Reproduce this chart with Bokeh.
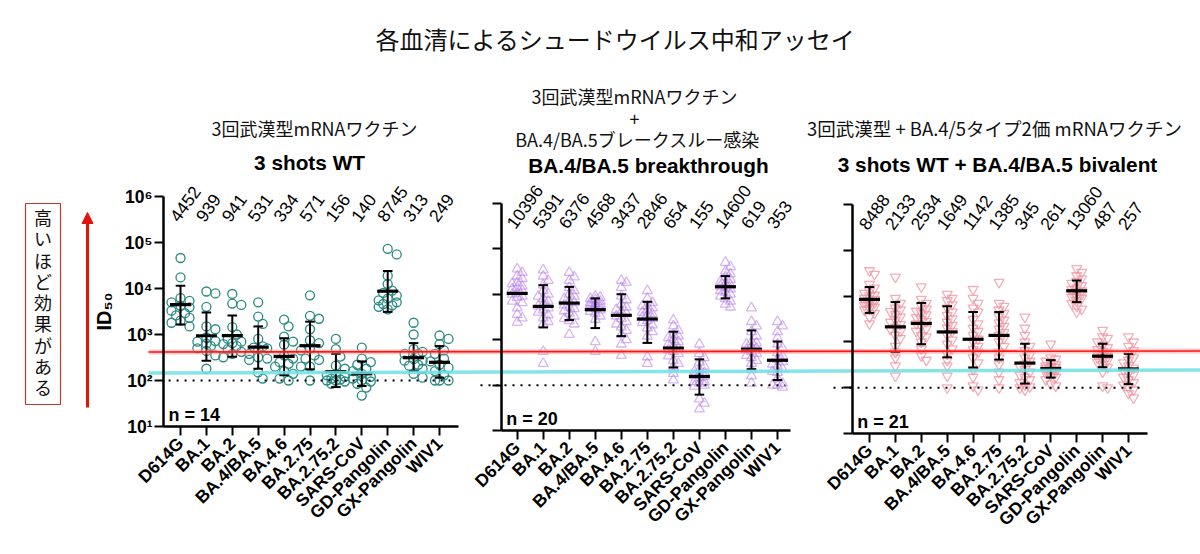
import math
from bokeh.plotting import figure
from bokeh.models import (Range1d, LogScale, LogAxis, LinearAxis, FixedTicker,
                          CustomJSTickFormatter, Arrow, NormalHead)
from bokeh.core.properties import value
from bokeh.embed import file_html
from bokeh.resources import INLINE

# ---------------- data ----------------
categories = ["D614G", "BA.1", "BA.2", "BA.4/BA.5", "BA.4.6", "BA.2.75",
              "BA.2.75.2", "SARS-CoV", "GD-Pangolin", "GX-Pangolin", "WIV1"]

# geometric means (labels above columns)
gm_wt = [4452, 939, 941, 531, 334, 571, 156, 140, 8745, 313, 249]
gm_bt = [10396, 5391, 6376, 4568, 3437, 2846, 654, 155, 14600, 619, 353]
gm_bv = [8488, 2133, 2534, 1649, 1142, 1385, 345, 261, 13060, 487, 257]

# error bars (upper / lower)
hi_wt = [11500, 3000, 2600, 1500, 830, 1900, 380, 260, 24000, 650, 560]
lo_wt = [1660, 270, 330, 180, 130, 175, 72, 76, 3100, 160, 115]
hi_bt = [None, 15800, 14500, 8100, 10000, 6800, 1500, 370, 25000, 1600, 910]
lo_bt = [None, 1860, 2700, 1800, 1200, 850, 245, 62, 8100, 225, 130]
hi_bv = [15800, 7400, 7100, 6000, 4500, 4500, 910, 400, 21900, 910, 550]
lo_bv = [4300, 600, 890, 460, 275, 410, 123, 166, 7400, 280, 120]

# individual sera, 3 shots WT (n = 14)
pts_wt = [
    [46000, 17400, 6200, 5400, 5000, 4200, 3900, 3300, 2900, 2600, 2300, 2000, 1800, 1500],
    [8600, 7800, 4000, 1500, 1300, 700, 860, 500, 720, 630, 560, 440, 350, 180],
    [7600, 4700, 4400, 1450, 1000, 800, 650, 700, 620, 560, 480, 420, 380, 320],
    [5000, 2450, 1700, 800, 550, 520, 480, 500, 380, 320, 300, 280, 150, 110],
    [2100, 1500, 900, 700, 600, 350, 300, 250, 230, 200, 160, 140, 110, 100],
    [7100, 2550, 2200, 1300, 750, 650, 500, 450, 350, 300, 280, 200, 200, 100],
    [800, 480, 330, 210, 180, 130, 140, 120, 110, 105, 100, 100, 95, 85],
    [520, 300, 250, 220, 180, 160, 140, 120, 110, 100, 95, 85, 70, 47],
    [73000, 55000, 19000, 12500, 9000, 8000, 7000, 6000, 5500, 5000, 4600, 4300, 4000, 3500],
    [1800, 1000, 480, 420, 380, 380, 290, 270, 270, 220, 210, 180, 140, 115],
    [950, 800, 620, 450, 380, 300, 260, 220, 190, 160, 130, 100, 100, 100],
]

# BA.4/BA.5 breakthrough (n = 20)
pts_bt = [
    [36000, 30000, 25000, 22000, 18000, 17000, 15000, 14000, 13000, 12000, 10500, 10000, 9000, 8500, 7000, 6500, 5000, 3600, 3000, 2400],
    [34000, 25000, 20000, 16000, 12000, 10000, 9000, 8000, 7000, 6000, 5500, 5000, 4500, 4000, 3500, 3000, 2500, 2200, 550, 300],
    [30000, 24000, 20000, 14000, 12000, 10000, 9000, 8000, 7000, 6500, 5800, 5200, 4800, 4300, 3800, 3300, 2900, 2600, 2200, 1300],
    [9000, 8500, 8000, 7500, 7000, 6500, 6200, 6000, 5800, 5500, 5200, 5000, 4800, 4500, 4200, 3800, 3300, 2800, 900, 550],
    [20000, 18000, 14000, 9000, 7500, 6000, 5200, 4600, 4200, 3800, 3300, 2900, 2500, 2200, 1900, 1600, 1300, 1000, 800, 450],
    [12000, 8000, 6500, 5500, 5500, 5000, 4500, 4000, 3700, 3400, 3100, 2900, 2600, 2400, 2100, 1800, 1500, 1200, 420, 300],
    [2700, 2000, 1600, 1300, 1200, 1100, 1000, 900, 800, 720, 650, 600, 550, 500, 440, 350, 300, 250, 180, 130],
    [800, 500, 400, 320, 260, 220, 200, 190, 175, 165, 155, 145, 120, 120, 110, 100, 95, 50, 40, 30],
    [50000, 40000, 32000, 28000, 24000, 21000, 19000, 17000, 16000, 15000, 14000, 13000, 12000, 11000, 10000, 9000, 8000, 7000, 6000, 5200],
    [5000, 2500, 2000, 1500, 1200, 900, 850, 800, 700, 650, 600, 550, 500, 450, 400, 350, 300, 220, 160, 110],
    [2500, 2000, 1500, 1100, 800, 650, 520, 440, 370, 330, 290, 260, 230, 200, 190, 140, 110, 100, 100, 90],
]

# 3 shots WT + BA.4/BA.5 bivalent (n = 21)
pts_bv = [
    [36000, 30000, 18000, 15000, 13000, 11500, 10500, 10000, 9000, 8500, 8000, 7500, 7200, 6800, 6300, 5800, 5400, 5000, 4200, 3500, 2500],
    [26000, 9000, 7000, 5500, 5000, 4600, 4000, 3500, 3000, 2700, 2400, 2100, 1900, 1700, 1400, 1200, 800, 600, 450, 300, 180],
    [16000, 8500, 7000, 6000, 5200, 4700, 4300, 3900, 3400, 3100, 2800, 2500, 2200, 1950, 1700, 1400, 1300, 1000, 700, 500, 400],
    [11000, 9000, 8000, 6500, 5500, 4500, 3800, 3200, 2700, 2300, 2000, 1700, 1400, 1100, 900, 700, 550, 400, 300, 180, 100],
    [14000, 9000, 7000, 5500, 4500, 3100, 2500, 2000, 1700, 1400, 1150, 1000, 800, 680, 600, 450, 350, 250, 170, 110, 90],
    [20000, 7000, 6000, 5000, 4200, 3600, 3000, 2600, 2200, 1900, 1600, 1400, 1200, 1000, 800, 600, 450, 320, 220, 150, 100],
    [3500, 2000, 1400, 1000, 800, 650, 520, 450, 380, 330, 290, 250, 220, 190, 170, 150, 130, 115, 105, 100, 90],
    [900, 450, 420, 380, 350, 320, 300, 290, 280, 270, 260, 250, 240, 230, 220, 210, 190, 170, 150, 120, 110],
    [40000, 33000, 28000, 24000, 21000, 19000, 17000, 15000, 14000, 13000, 12500, 12000, 11000, 10000, 9500, 9000, 8000, 7000, 6000, 5200, 4500],
    [1800, 1300, 1200, 1000, 850, 750, 680, 620, 570, 540, 510, 480, 450, 420, 390, 360, 320, 280, 220, 110, 100],
    [1300, 1000, 800, 650, 550, 450, 400, 350, 300, 270, 240, 210, 190, 170, 150, 130, 115, 100, 90, 75, 60],
]

detection_limit = 100
main_title = "各血清によるシュードウイルス中和アッセイ"
side_note = "高いほど効果がある"

# ---------------- layout (pixels) ----------------
W, H = 1200, 554
JP = "Noto Sans CJK JP"
LAT = "Liberation Sans"

panels = [
    dict(name="1", gm=gm_wt, hi=hi_wt, lo=lo_wt, pts=pts_wt, x0=180.0, step=25.9, top=196.0, dec=46.0,
         yloc=-0.656, xend=10.73, dot=(-0.46, 10.42), marker="circle", color="#2a8a83", alpha=1.0,
         size=9, labels=True, maxoff=13.0, sep=0.85),
    dict(name="2", gm=gm_bt, hi=hi_bt, lo=lo_bt, pts=pts_bt, x0=516.7, step=26.03, top=202.7, dec=45.5,
         yloc=-0.615, xend=10.5, dot=(-1.41, 10.3), marker="triangle", color="#b47ae8", alpha=0.55,
         size=10, labels=False, maxoff=9.0, sep=0.55),
    dict(name="3", gm=gm_bv, hi=hi_bv, lo=lo_bv, pts=pts_bv, x0=869.0, step=25.9, top=204.0, dec=45.8,
         yloc=-0.668, xend=10.73, dot=(-1.39, 10.57), marker="inverted_triangle", color="#ee8d9b", alpha=0.7,
         size=10, labels=False, maxoff=9.0, sep=0.55),
]

extra_x, extra_y, extra_ys = {}, {}, {}
for pn in panels:
    extra_x["x" + pn["name"]] = Range1d(-pn["x0"] / pn["step"], (W - pn["x0"]) / pn["step"])
    extra_y["y" + pn["name"]] = Range1d(10 ** (6 - (H - pn["top"]) / pn["dec"]),
                                        10 ** (6 + pn["top"] / pn["dec"]))
    extra_ys["y" + pn["name"]] = LogScale()

p = figure(width=W, height=H, output_backend="svg", toolbar_location=None,
           x_range=Range1d(0, W), y_range=Range1d(H, 0),
           x_axis_location=None, y_axis_location=None, min_border=0,
           extra_x_ranges=extra_x, extra_y_ranges=extra_y, extra_y_scales=extra_ys)
p.outline_line_color = None
p.background_fill_color = "white"
p.border_fill_color = "white"
p.xgrid.visible = False
p.ygrid.visible = False


def swarm(vals, dec, step, size, maxoff, sep):
    order = sorted(range(len(vals)), key=lambda i: -vals[i])
    placed, offs = [], [0.0] * len(vals)
    d = size * 0.5
    cands = [0.0]
    j = 1
    while j * d <= maxoff:
        cands += [j * d, -j * d]
        j += 1
    for i in order:
        y = math.log10(vals[i]) * dec
        best, bestc, bests = None, 0.0, -1
        for c in cands:
            md = min((math.hypot(c - px, y - py) for px, py in placed), default=1e9)
            if md >= size * sep:
                best = c
                break
            if md > bests:
                bests, bestc = md, c
        if best is None:
            best = bestc
        placed.append((best, y))
        offs[i] = best / step
    return offs


sup = CustomJSTickFormatter(code="""
const s = {'0':'\u2070','1':'\u00b9','2':'\u00b2','3':'\u00b3','4':'\u2074','5':'\u2075','6':'\u2076','7':'\u2077','8':'\u2078','9':'\u2079'};
const e = Math.round(Math.log10(tick));
return '10' + String(e).split('').map(c => s[c]).join('');
""")

for pn in panels:
    xr, yr = "x" + pn["name"], "y" + pn["name"]
    n = len(categories)
    # points
    xs, ys = [], []
    for i, vals in enumerate(pn["pts"]):
        offs = swarm(vals, pn["dec"], pn["step"], pn["size"], pn["maxoff"], pn["sep"])
        xs += [i + o for o in offs]
        ys += vals
    p.scatter(xs, ys, marker=pn["marker"], size=pn["size"], fill_color=None,
              line_color=pn["color"], line_alpha=pn["alpha"], line_width=1.3,
              x_range_name=xr, y_range_name=yr)
    # detection limit
    p.line(list(pn["dot"]), [detection_limit] * 2, line_color="black", line_width=2,
           line_dash="2 6", x_range_name=xr, y_range_name=yr)
    # error bars
    ex = [i for i in range(n) if pn["hi"][i] is not None]
    hi = [pn["hi"][i] for i in ex]
    lo = [pn["lo"][i] for i in ex]
    cap = 4.8 / pn["step"]
    p.segment(ex, lo, ex, hi, line_color="black", line_width=2, x_range_name=xr, y_range_name=yr)
    p.segment([i - cap for i in ex], hi, [i + cap for i in ex], hi, line_color="black",
              line_width=2, x_range_name=xr, y_range_name=yr)
    p.segment([i - cap for i in ex], lo, [i + cap for i in ex], lo, line_color="black",
              line_width=2, x_range_name=xr, y_range_name=yr)
    mh = 10.5 / pn["step"]
    p.segment([i - mh for i in range(n)], pn["gm"], [i + mh for i in range(n)], pn["gm"],
              line_color="black", line_width=3.2, x_range_name=xr, y_range_name=yr)
    # GM labels
    p.text(list(range(n)), [1e6] * n, text=[str(v) for v in pn["gm"]], angle=math.radians(54),
           text_align="left", text_baseline="middle", x_offset=-7, y_offset=23,
           text_font=value(LAT), text_font_size="17.5px", text_color="black",
           x_range_name=xr, y_range_name=yr)
    # n label
    p.text([pn["yloc"]], [10], text=["n = %d" % len(pn["pts"][0])], text_align="left",
           text_baseline="bottom", x_offset=5, y_offset=-2, text_font=value(LAT),
           text_font_style="bold", text_font_size="18px", text_color="black",
           x_range_name=xr, y_range_name=yr)
    # axes
    yax = LogAxis(x_range_name=xr, y_range_name=yr, fixed_location=pn["yloc"], bounds=(10, 1e6),
                  ticker=FixedTicker(ticks=[10, 100, 1000, 10000, 100000, 1000000]), formatter=sup,
                  axis_line_width=2.5, major_tick_line_width=2, major_tick_out=9, major_tick_in=0,
                  minor_tick_line_color=None, major_label_standoff=2,
                  major_label_text_font=LAT, major_label_text_font_style="bold",
                  major_label_text_font_size="17.5px", major_label_text_color="black")
    if pn["labels"]:
        yax.axis_label = "ID\u2085\u2080"
        yax.axis_label_text_font = LAT
        yax.axis_label_text_font_style = "bold"
        yax.axis_label_text_font_size = "20px"
        yax.axis_label_text_color = "black"
        yax.axis_label_standoff = 6
    else:
        yax.major_label_text_color = None
    p.add_layout(yax, "left")
    xax = LinearAxis(x_range_name=xr, y_range_name=yr, fixed_location=10,
                     bounds=(pn["yloc"], pn["xend"]), ticker=FixedTicker(ticks=list(range(n))),
                     major_label_overrides={i: c for i, c in enumerate(categories)},
                     major_label_orientation=math.pi / 4, axis_line_width=2.5,
                     major_tick_line_width=2, major_tick_out=9, major_tick_in=0,
                     minor_tick_line_color=None, major_label_standoff=5,
                     major_label_text_font=LAT, major_label_text_font_style="bold",
                     major_label_text_font_size="17.5px", major_label_text_color="black")
    p.add_layout(xax, "below")

# reference lines across the figure
p.segment([148], [351.5], [W], [350.5], line_color="#ff8f8f", line_width=5, line_alpha=0.45)
p.segment([148], [351.5], [W], [350.5], line_color="#ff1414", line_width=1.6)
p.segment([148], [372.5], [W], [369.5], line_color="#6fe0e4", line_width=3.5, line_alpha=0.85)

# titles
p.text([615], [38], text=[main_title], text_align="center", text_baseline="middle",
       text_font=value(JP), text_font_size="24px", text_color="#111111")
sub_x = [314, 634, 634, 637]
sub_y = [127, 95, 118, 138]
sub_t = ["3回武漢型mRNAワクチン", "3回武漢型mRNAワクチン", "+", "BA.4/BA.5ブレークスルー感染"]
p.text(sub_x, sub_y, text=sub_t, text_align="center", text_baseline="middle",
       text_font=value(JP), text_font_size="18px", text_color="#111111")
p.text([994], [127], text=["3回武漢型 + BA.4/5タイプ2価 mRNAワクチン"], text_align="center",
       text_baseline="middle", text_font=value(JP), text_font_size="18.5px", text_color="#111111")
bold_x = [309, 648, 997]
bold_y = [162, 165, 164]
bold_t = ["3 shots WT", "BA.4/BA.5 breakthrough", "3 shots WT + BA.4/BA.5 bivalent"]
p.text(bold_x, bold_y, text=bold_t, text_align="center", text_baseline="middle",
       text_font=value(LAT), text_font_style="bold", text_font_size="20.8px", text_color="black")

# side note box and arrow
p.quad(left=[25], right=[60], top=[203], bottom=[404], fill_color=None,
       line_color="#c0392b", line_width=1.2)
chars = list(side_note)
p.text([42.5] * len(chars), [216.7 + 21.25 * i for i in range(len(chars))], text=chars,
       text_align="center", text_baseline="middle", text_font=value(JP),
       text_font_size="18px", text_color="#111111")
p.add_layout(Arrow(end=NormalHead(size=11, fill_color="#e3120b", line_color="#e3120b"),
                   x_start=87, y_start=407, x_end=87, y_end=212,
                   line_color="#e3120b", line_width=3))

open("out.html", "w").write(file_html(p, INLINE))
